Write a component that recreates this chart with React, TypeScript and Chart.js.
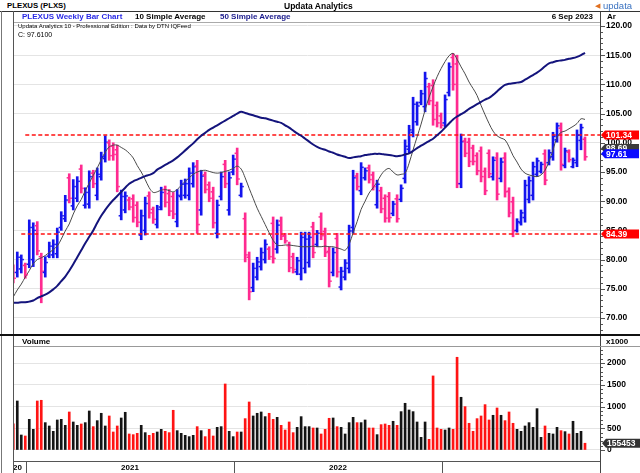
import { useEffect, useRef } from 'react';
import { Chart, registerables } from 'chart.js';

Chart.register(...registerables);

const FONT = "'Liberation Sans', Arial, Helvetica, sans-serif";

// Weekly OHLC (index 0 = week of 7 Dec 2020, last = week of 4 Sep 2023)
const highs = [
  79.1, 81.3, 80.8, 79.4, 86.8, 86.3, 86.5, 81.1, 80.5, 83.0,
  83.4, 85.4, 88.2, 91.0, 94.7, 93.7, 94.2, 96.2, 92.3, 95.2,
  95.3, 95.7, 98.4, 101.2, 100.5, 100.0, 99.6, 91.9, 91.6, 90.7,
  91.1, 89.9, 88.5, 90.7, 91.6, 89.0, 89.3, 92.4, 92.6, 92.0,
  91.5, 92.0, 93.6, 93.8, 95.7, 96.6, 97.0, 95.3, 95.0, 93.3,
  92.4, 90.2, 95.0, 97.0, 95.0, 97.9, 99.1, 93.1, 88.0, 81.3,
  79.4, 80.4, 82.0, 83.4, 82.2, 87.3, 86.8, 87.3, 84.5, 83.0,
  81.1, 80.4, 84.7, 84.7, 84.7, 86.4, 85.0, 88.0, 85.4, 82.2,
  82.0, 84.5, 78.7, 80.0, 85.9, 95.3, 94.8, 96.6, 95.7, 96.2,
  95.0, 93.6, 92.4, 91.1, 91.5, 90.0, 91.1, 92.8, 100.5, 103.0,
  107.8, 107.0, 109.0, 112.1, 110.2, 110.8, 107.0, 105.1, 108.2, 113.7,
  115.3, 115.0, 101.5, 100.8, 100.8, 99.6, 98.3, 99.3, 95.7, 98.8,
  97.6, 98.3, 97.4, 98.3, 92.3, 90.7, 87.0, 88.5, 93.6, 94.2,
  96.7, 97.4, 96.7, 98.8, 98.8, 101.8, 103.4, 103.4, 99.1, 98.8,
  97.4, 102.2, 103.2, 101.0,
];
const lows = [
  76.0, 77.0, 77.7, 76.8, 78.6, 78.8, 80.8, 72.6, 77.0, 80.3,
  80.3, 80.3, 85.0, 86.5, 89.7, 88.5, 89.9, 91.4, 88.8, 88.8,
  92.3, 90.2, 93.6, 96.7, 97.0, 97.0, 91.6, 86.8, 88.0, 88.5,
  86.4, 85.6, 83.4, 84.2, 87.1, 86.2, 85.4, 88.5, 89.0, 87.5,
  87.0, 85.6, 90.2, 90.5, 90.2, 92.4, 84.5, 87.6, 91.4, 89.9,
  85.4, 83.7, 90.2, 92.3, 87.6, 94.5, 92.8, 90.7, 79.6, 73.1,
  74.5, 76.5, 78.2, 79.4, 80.0, 79.4, 81.1, 83.4, 82.8, 77.9,
  77.7, 77.4, 76.5, 77.7, 78.7, 80.3, 82.2, 83.4, 80.5, 75.3,
  77.2, 77.0, 74.8, 76.5, 77.7, 84.5, 91.9, 91.1, 93.6, 93.1,
  91.9, 88.8, 88.0, 86.4, 86.4, 87.5, 86.4, 89.9, 93.1, 98.3,
  101.0, 103.0, 106.5, 105.3, 106.5, 103.0, 102.7, 102.5, 102.7, 108.0,
  109.0, 92.3, 92.3, 97.6, 95.9, 96.2, 94.5, 93.3, 91.1, 94.0,
  93.6, 90.2, 93.3, 90.7, 87.3, 83.9, 84.7, 85.9, 86.4, 89.7,
  90.2, 94.2, 94.8, 92.8, 96.2, 97.0, 100.1, 95.3, 95.7, 96.7,
  95.7, 95.9, 98.8, 97.0,
];
const opens = [
  78.5, 77.8, 78.4, 79.0, 79.2, 80.0, 85.8, 80.5, 77.8, 80.6,
  80.8, 81.0, 85.5, 87.0, 94.0, 89.2, 90.5, 95.5, 89.3, 89.5,
  94.8, 91.0, 94.2, 97.3, 100.0, 99.4, 98.8, 87.5, 88.5, 90.2,
  90.4, 89.3, 84.2, 85.0, 90.9, 88.6, 86.0, 89.0, 92.0, 91.3,
  90.8, 86.5, 90.8, 91.0, 91.0, 93.0, 96.0, 88.5, 94.5, 92.8,
  91.6, 84.5, 90.8, 96.3, 88.5, 95.0, 98.2, 91.0, 87.0, 80.4,
  75.2, 77.0, 78.8, 80.0, 81.8, 86.2, 81.8, 86.6, 84.1, 82.4,
  80.5, 77.9, 77.5, 78.5, 79.5, 85.6, 82.6, 87.3, 84.8, 81.4,
  77.8, 83.6, 75.3, 77.0, 78.5, 85.5, 94.3, 91.8, 94.0, 95.7,
  94.5, 89.4, 91.8, 90.5, 90.8, 87.9, 90.4, 90.3, 93.9, 98.9,
  101.8, 103.6, 106.9, 106.2, 109.6, 109.8, 106.4, 104.6, 103.4, 108.6,
  114.6, 113.5, 93.0, 100.3, 100.1, 99.1, 97.8, 98.6, 95.1, 98.2,
  94.2, 97.4, 93.9, 97.4, 91.7, 89.9, 85.0, 86.3, 87.2, 90.3,
  91.0, 94.6, 95.1, 98.1, 96.6, 97.6, 100.5, 102.5, 96.1, 98.4,
  95.9, 96.6, 100.4, 100.6,
];
const closes = [
  76.8, 80.4, 80.0, 77.4, 85.5, 85.0, 81.5, 78.0, 79.5, 82.3,
  82.6, 84.7, 87.5, 90.2, 90.5, 92.5, 93.4, 92.2, 91.5, 94.2,
  93.0, 94.6, 97.6, 100.1, 97.8, 98.0, 92.5, 90.8, 90.9, 89.0,
  87.2, 86.4, 87.5, 89.6, 88.0, 86.9, 88.6, 91.5, 89.8, 88.3,
  87.8, 91.0, 92.9, 93.0, 94.8, 95.9, 86.0, 94.3, 92.0, 90.5,
  86.3, 89.3, 94.2, 93.0, 94.0, 97.2, 93.8, 92.5, 80.8, 74.5,
  78.5, 79.6, 81.2, 82.6, 80.5, 80.2, 85.9, 84.0, 83.2, 78.6,
  78.3, 79.8, 83.8, 83.5, 83.8, 81.2, 84.5, 84.1, 81.2, 76.3,
  81.2, 77.9, 78.0, 79.4, 84.9, 94.0, 92.5, 95.8, 95.2, 93.7,
  92.5, 92.9, 88.7, 87.1, 87.2, 89.5, 87.0, 92.2, 99.4, 102.2,
  106.6, 106.3, 108.4, 111.0, 107.2, 104.0, 103.4, 103.0, 107.4, 113.0,
  110.0, 93.0, 100.2, 98.2, 96.8, 96.8, 95.2, 94.2, 91.8, 94.7,
  97.0, 91.2, 96.7, 91.6, 88.0, 84.9, 86.5, 88.0, 92.7, 93.5,
  95.9, 96.9, 96.3, 93.6, 98.3, 101.1, 102.9, 96.3, 98.6, 97.1,
  97.0, 101.3, 102.6, 97.61,
];
const ma10 = [
  73.6, 74.8, 75.8, 77.0, 78.1, 79.3, 80.0, 80.3, 80.7, 81.2,
  81.7, 82.3, 83.5, 84.9, 86.1, 87.8, 89.2, 90.3, 91.8, 93.1,
  94.4, 95.7, 97.1, 98.4, 99.3, 99.6, 99.6, 99.2, 98.8, 98.2,
  97.4, 96.1, 95.0, 93.7, 92.3, 91.5, 91.6, 91.9, 92.0, 91.8,
  91.6, 92.0, 92.7, 93.4, 94.0, 94.6, 95.0, 95.2, 95.3, 95.1,
  94.9, 94.8, 94.9, 95.1, 95.3, 95.6, 96.0, 95.5, 94.0, 92.2,
  90.5, 88.8, 87.4, 86.0, 84.6, 83.3, 82.5, 82.4, 82.5, 82.5,
  82.4, 82.3, 82.2, 82.2, 82.2, 82.3, 82.2, 82.2, 82.3, 82.2,
  82.2, 82.0, 81.8, 81.6, 82.6, 84.6, 86.5, 88.6, 90.0, 91.4,
  92.3, 93.3, 94.5, 95.3, 95.6, 95.0, 94.5, 94.6, 94.8, 96.5,
  98.8, 101.0, 103.2, 105.6, 107.8, 109.6, 111.3, 112.7, 113.9, 114.9,
  115.3, 114.3, 113.0, 111.8, 110.4, 109.3, 108.1, 106.4, 104.8, 103.3,
  102.0, 101.2, 100.8, 100.5, 99.3, 97.8, 96.7, 95.5, 94.8, 94.5,
  94.3, 94.2, 94.5, 95.3, 96.8, 98.8, 100.9, 101.8, 102.0, 102.4,
  102.8, 103.3, 104.1, 104.0,
];
const ma50 = [
  72.6, 72.6, 72.7, 72.7, 72.8, 73.0, 73.4, 73.7, 74.0, 74.4,
  74.9, 75.5, 76.3, 77.1, 78.1, 79.2, 80.4, 81.6, 82.8, 83.9,
  85.0, 86.3, 87.5, 88.5, 89.4, 90.2, 90.9, 91.6, 92.3, 93.0,
  93.4, 93.7, 94.0, 94.3, 94.5, 94.8, 95.4, 95.8, 96.2, 96.6,
  97.0, 97.5, 98.1, 98.7, 99.3, 99.9, 100.6, 101.2, 101.7, 102.2,
  102.6, 103.0, 103.4, 103.8, 104.2, 104.6, 105.0, 105.3, 105.1, 104.9,
  104.7, 104.5, 104.3, 104.2, 104.0, 103.8, 103.6, 103.4, 103.0, 102.6,
  102.1, 101.6, 101.2, 100.7, 100.2, 99.7, 99.3, 99.0, 98.8, 98.5,
  98.3, 98.0, 97.8, 97.6, 97.4, 97.5, 97.6, 97.7, 97.9, 98.0,
  98.1, 98.1, 98.1, 98.0, 97.9, 97.8, 97.7, 97.8, 98.0, 98.2,
  98.6, 99.1, 99.5, 99.9, 100.3, 100.7, 101.3, 101.9, 102.6, 103.3,
  104.0, 104.5, 104.9, 105.3, 105.8, 106.2, 106.6, 107.0, 107.4, 107.7,
  108.2, 108.8, 109.4, 109.9, 110.1, 110.2, 110.3, 110.4, 110.8, 111.2,
  111.6, 112.0, 112.5, 113.1, 113.6, 113.8, 114.0, 114.1, 114.2, 114.4,
  114.5, 114.7, 115.0, 115.4,
];
// Weekly volume in thousands of shares
const volumes = [
  600, 1127, 345, 322, 705, 475, 1127, 1143, 629, 552,
  429, 690, 705, 567, 874, 644, 567, 598, 629, 897,
  537, 675, 844, 552, 782, 414, 552, 736, 867, 368,
  353, 383, 567, 399, 337, 383, 414, 475, 429, 399,
  913, 445, 383, 337, 307, 337, 537, 445, 307, 475,
  322, 521, 537, 1518, 429, 307, 414, 414, 721, 1104,
  782, 844, 874, 767, 844, 705, 751, 567, 460, 644,
  399, 521, 767, 537, 537, 506, 506, 368, 475, 729,
  736, 537, 521, 368, 629, 751, 629, 629, 690, 506,
  506, 353, 583, 598, 567, 660, 567, 882, 1074, 920,
  882, 644, 291, 644, 245, 1703, 506, 475, 460, 506,
  475, 2132, 1212, 997, 614, 429, 721, 782, 1043, 690,
  798, 966, 798, 675, 874, 614, 475, 429, 552, 629,
  521, 951, 291, 552, 383, 368, 521, 445, 422, 368,
  660, 383, 429, 155.453,
];

const priceTicks = [70, 75, 80, 85, 90, 95, 100, 105, 110, 115, 120];
const volumeTicks = [0, 500, 1000, 1500, 2000];
const yearLabels = ['2020', '2021', '2022', '2023'];
const yearStartBars = [4, 56, 108];

const resistanceLevel = 101.34;
const resistanceFromBar = 3;
const supportLevel = 84.39;
const supportFromBar = 2;
const prevLevel = 98.69;
const lastClose = closes[closes.length - 1];
const lastVolume = volumes[volumes.length - 1];

const UP = '#1414ee';
const DOWN = '#ff2a90';
const VOL_UP = '#141414';
const VOL_DOWN = '#ff1414';

const X_MIN = 0.18;
const X_MAX = 147;
const PRICE_MIN = 67.43;
const PRICE_MAX = 120.51;
const VOL_MIN = -230;
const VOL_MAX = 2368;

const isDown = (i: number) => closes[i] < opens[i];

function drawTag(ctx: CanvasRenderingContext2D, xLeft: number, yc: number, text: string, color: string) {
  ctx.beginPath();
  ctx.moveTo(xLeft, yc);
  ctx.lineTo(xLeft + 4, yc - 4.5);
  ctx.lineTo(xLeft + 38, yc - 4.5);
  ctx.lineTo(xLeft + 38, yc + 4.5);
  ctx.lineTo(xLeft + 4, yc + 4.5);
  ctx.closePath();
  ctx.fillStyle = color;
  ctx.fill();
  ctx.fillStyle = '#ffffff';
  ctx.font = `bold 8.5px ${FONT}`;
  ctx.textAlign = 'left';
  ctx.textBaseline = 'middle';
  ctx.fillText(text, xLeft + 5, yc + 0.5);
}

const pricePlugin = {
  id: 'priceExtras',
  afterDatasetsDraw(chart: any) {
    const { ctx, chartArea, scales } = chart;
    const x = scales.x;
    const y = scales.y;
    ctx.save();
    ctx.beginPath();
    ctx.rect(chartArea.left, chartArea.top, chartArea.right - chartArea.left, chartArea.bottom - chartArea.top);
    ctx.clip();
    for (let i = 0; i < highs.length; i++) {
      const px = x.getPixelForValue(i);
      ctx.fillStyle = isDown(i) ? DOWN : UP;
      ctx.fillRect(px - 2.6, y.getPixelForValue(opens[i]) - 0.75, 1.6, 1.5);
      ctx.fillRect(px + 1, y.getPixelForValue(closes[i]) - 0.75, 1.6, 1.5);
    }
    ctx.restore();
  },
  afterDraw(chart: any) {
    const { ctx, chartArea, scales } = chart;
    const y = scales.y;
    ctx.save();
    ctx.fillStyle = '#555555';
    for (let v = 68; v <= 120; v += 1) {
      const py = Math.round(y.getPixelForValue(v));
      ctx.fillRect(chartArea.right, py, v % 5 === 0 ? 4 : 2, 1);
    }
    const r = chartArea.right;
    drawTag(ctx, r, y.getPixelForValue(resistanceLevel), resistanceLevel.toFixed(2), '#ff0000');
    drawTag(ctx, r, y.getPixelForValue(supportLevel), supportLevel.toFixed(2), '#ff0000');
    drawTag(ctx, r, y.getPixelForValue(prevLevel) - 2, prevLevel.toFixed(2), '#3a3a3a');
    drawTag(ctx, r, y.getPixelForValue(lastClose) - 3, lastClose.toFixed(2), '#0a0aff');
    ctx.restore();
  },
};

const volumePlugin = {
  id: 'volumeExtras',
  afterDraw(chart: any) {
    const { ctx, chartArea, scales } = chart;
    const x = scales.x;
    const y = scales.y;
    ctx.save();
    ctx.fillStyle = '#555555';
    for (let v = 0; v <= 2300; v += 100) {
      const py = Math.round(y.getPixelForValue(v));
      ctx.fillRect(chartArea.right, py, v % 500 === 0 ? 4 : 2, 1);
    }
    const y0 = Math.round(chartArea.bottom) + 1;
    ctx.fillStyle = '#555555';
    ctx.fillRect(chartArea.left, y0, chartArea.right - chartArea.left, 1);
    const seps = yearStartBars.map((b) => Math.round(x.getPixelForValue(b - 0.75)));
    seps.forEach((sx) => ctx.fillRect(sx, y0, 1, 13));
    ctx.beginPath();
    ctx.rect(chartArea.left, y0, chartArea.right - chartArea.left, 14);
    ctx.clip();
    ctx.fillStyle = '#000000';
    ctx.font = `bold 8px ${FONT}`;
    ctx.textBaseline = 'middle';
    for (let j = 0; j < seps.length; j++) {
      if (j === 0) {
        ctx.textAlign = 'right';
        ctx.fillText(yearLabels[0], seps[0] - 4, y0 + 7);
      } else {
        ctx.textAlign = 'center';
        ctx.fillText(yearLabels[j], (seps[j - 1] + seps[j]) / 2, y0 + 7);
      }
    }
    ctx.restore();
    ctx.save();
    drawTag(ctx, chartArea.right + 1, y.getPixelForValue(lastVolume), String(Math.round(lastVolume * 1000)), '#333333');
    ctx.restore();
  },
};

const fixAxis = (s: any) => {
  s.width = 39;
  s.paddingTop = 0;
  s.paddingBottom = 0;
  s.paddingLeft = 0;
  s.paddingRight = 0;
};

function priceConfig(): any {
  return {
    type: 'bar',
    data: {
      datasets: [
        {
          type: 'line',
          data: ma50.map((v, i) => ({ x: i, y: v })),
          borderColor: '#14147c',
          borderWidth: 2,
          pointRadius: 0,
          tension: 0.4,
          order: 0,
        },
        {
          type: 'line',
          data: ma10.map((v, i) => ({ x: i, y: v })),
          borderColor: '#4a4a4a',
          borderWidth: 1,
          pointRadius: 0,
          tension: 0.35,
          order: 1,
        },
        {
          type: 'line',
          data: [
            { x: resistanceFromBar, y: resistanceLevel },
            { x: X_MAX, y: resistanceLevel },
          ],
          borderColor: '#ff1010',
          borderWidth: 1.5,
          borderDash: [4, 2.5],
          pointRadius: 0,
          order: 2,
        },
        {
          type: 'line',
          data: [
            { x: supportFromBar, y: supportLevel },
            { x: X_MAX, y: supportLevel },
          ],
          borderColor: '#ff1010',
          borderWidth: 1.5,
          borderDash: [4, 2.5],
          pointRadius: 0,
          order: 2,
        },
        {
          type: 'bar',
          data: highs.map((h, i) => ({ x: i, y: [lows[i], h] })),
          backgroundColor: (c: any) => (isDown(c.dataIndex) ? DOWN : UP),
          barThickness: 2,
          borderWidth: 0,
          grouped: false,
          order: 3,
        },
      ],
    },
    options: {
      responsive: false,
      animation: false,
      events: [],
      layout: { autoPadding: false, padding: { top: 11, left: 0, right: 0, bottom: 0 } },
      plugins: { legend: { display: false }, tooltip: { enabled: false } },
      scales: {
        x: { type: 'linear', min: X_MIN, max: X_MAX, display: false, offset: false },
        y: {
          position: 'right',
          min: PRICE_MIN,
          max: PRICE_MAX,
          afterFit: fixAxis,
          afterBuildTicks: (s: any) => {
            s.ticks = priceTicks.map((v) => ({ value: v }));
          },
          grid: { color: '#e4e4e4', drawTicks: false },
          border: { display: false },
          ticks: {
            padding: 5,
            color: '#000000',
            font: { family: FONT, size: 8.5, weight: 'bold' },
            callback: (v: any) => Number(v).toFixed(2),
          },
        },
      },
    },
    plugins: [pricePlugin],
  };
}

function volumeConfig(): any {
  return {
    type: 'bar',
    data: {
      datasets: [
        {
          data: volumes.map((v, i) => ({ x: i, y: v })),
          backgroundColor: (c: any) => (isDown(c.dataIndex) ? VOL_DOWN : VOL_UP),
          barThickness: 2,
          borderWidth: 0,
        },
      ],
    },
    options: {
      responsive: false,
      animation: false,
      events: [],
      layout: { autoPadding: false, padding: { top: 0, left: 0, right: 0, bottom: 13 } },
      plugins: { legend: { display: false }, tooltip: { enabled: false } },
      scales: {
        x: { type: 'linear', min: X_MIN, max: X_MAX, display: false, offset: false },
        y: {
          position: 'right',
          min: VOL_MIN,
          max: VOL_MAX,
          afterFit: fixAxis,
          afterBuildTicks: (s: any) => {
            s.ticks = volumeTicks.map((v) => ({ value: v }));
          },
          grid: { color: '#e4e4e4', drawTicks: false },
          border: { display: false },
          ticks: {
            padding: 6,
            color: '#000000',
            font: { family: FONT, size: 8.5, weight: 'bold' },
            callback: (v: any) => String(v),
          },
        },
      },
    },
    plugins: [volumePlugin],
  };
}

function Line({ l, t, w, h, c }: { l: number; t: number; w: number; h: number; c: string }) {
  return <div style={{ position: 'absolute', left: l, top: t, width: w, height: h, background: c }} />;
}

function Txt({ l, t, s, b, c, children, r }: any) {
  const st: any = {
    position: 'absolute',
    top: t,
    fontSize: s,
    fontWeight: b ? 'bold' : 'normal',
    color: c || '#000',
    lineHeight: 1,
    whiteSpace: 'nowrap',
    fontFamily: FONT,
  };
  if (r !== undefined) st.right = r;
  else st.left = l;
  return <div style={st}>{children}</div>;
}

export default function App() {
  const priceRef = useRef<HTMLCanvasElement>(null);
  const volRef = useRef<HTMLCanvasElement>(null);

  useEffect(() => {
    const pc = new Chart(priceRef.current as HTMLCanvasElement, priceConfig());
    const vc = new Chart(volRef.current as HTMLCanvasElement, volumeConfig());
    return () => {
      pc.destroy();
      vc.destroy();
    };
  }, []);

  return (
    <div
      style={{
        position: 'absolute',
        left: 0,
        top: 0,
        width: 640,
        height: 473,
        background: '#ffffff',
        overflow: 'hidden',
        fontFamily: FONT,
      }}
    >
      <canvas ref={priceRef} width={626} height={321} style={{ position: 'absolute', left: 14, top: 12 }} />
      <canvas ref={volRef} width={626} height={126} style={{ position: 'absolute', left: 14, top: 347 }} />

      <Line l={0} t={11} w={640} h={1} c="#333" />
      <Line l={1} t={11} w={1} h={462} c="#777" />
      <Line l={13} t={11} w={1} h={462} c="#555" />
      <Line l={14} t={22} w={587} h={1} c="#aaa" />
      <Line l={600} t={12} w={1} h={461} c="#444" />
      <Line l={0} t={334} w={640} h={2} c="#111" />
      <Line l={14} t={346} w={626} h={1} c="#999" />

      <Txt l={7} t={2} s={7.8} b>PLEXUS (PLXS)</Txt>
      <Txt l={284} t={2} s={8.5} b>Updata Analytics</Txt>
      <div style={{ position: 'absolute', left: 595, top: 2, fontSize: 7, color: '#e07020', lineHeight: 1 }}>◀</div>
      <Txt l={603} t={1} s={9.5} c="#3a72c0">updata</Txt>

      <Txt l={22} t={13} s={8} b c="#2a2ae6">PLEXUS Weekly Bar Chart</Txt>
      <Txt l={135} t={13} s={8} b c="#000">10 Simple Average</Txt>
      <Txt l={220} t={13} s={8} b c="#1a1a8c">50 Simple Average</Txt>
      <Txt r={47} t={13} s={8} b>6 Sep 2023</Txt>
      <Txt l={607} t={13} s={8} b>Ar</Txt>

      <Txt l={18} t={23} s={6}>Updata Analytics 10 - Professional Edition : Data by DTN IQFeed</Txt>
      <Txt l={18} t={31} s={7}>C: {lastClose.toFixed(4)}</Txt>

      <Txt l={22} t={338} s={8} b>Volume</Txt>
      <Txt l={606} t={338} s={8} b>x1000</Txt>
    </div>
  );
}
